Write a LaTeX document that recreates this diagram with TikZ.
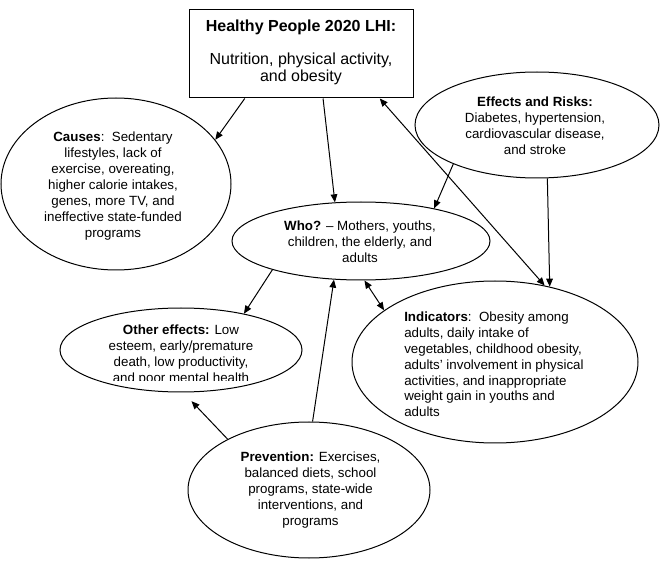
\documentclass[tikz,border=0pt]{standalone}
\usepackage{fontspec}
\setmainfont{Liberation Sans}
\usetikzlibrary{shapes.geometric,arrows.meta,calc}
\begin{document}
\begin{tikzpicture}[x=0.75pt,y=-0.75pt,
  oval/.style={draw,ellipse,line width=0.75pt,inner sep=0pt},
  frame/.style={draw,rectangle,line width=0.75pt,inner sep=0pt},
  body/.style={font=\fontsize{10}{11.9}\selectfont,align=center,inner sep=0pt},
  head/.style={font=\fontsize{12}{12.5}\selectfont,align=center,inner sep=0pt},
  conn/.style={line width=0.75pt,-{Triangle[length=6pt,width=5pt]}},
  dconn/.style={line width=0.75pt,{Triangle[length=6pt,width=5pt]}-{Triangle[length=6pt,width=5pt]}}]
\useasboundingbox (0,0) rectangle (662,567);

% shapes
\node[frame,minimum width=168pt,minimum height=66pt] (box) at (301,54) {};
\node[oval,minimum width=172.5pt,minimum height=129pt] (causes) at (116,184) {};
\node[oval,minimum width=183pt,minimum height=79.5pt] (eff) at (537,125) {};
\node[oval,minimum width=193.5pt,minimum height=58.5pt] (who) at (361,241) {};
\node[oval,minimum width=214.5pt,minimum height=121.5pt] (ind) at (495,362) {};
\node[oval,minimum width=181.5pt,minimum height=63pt] (oth) at (181,350) {};
\node[oval,minimum width=181.5pt,minimum height=102pt] (prev) at (309,490) {};

% texts
\node[head] (boxtitle) at (301,27) {\textbf{Healthy People 2020 LHI:}};
\node[head] (boxbody) at (301,69) {Nutrition, physical activity,\\and obesity};
\node[body] (causestxt) at (113,186) {\textbf{Causes}:\ \ Sedentary\\lifestyles, lack of\\exercise, overeating,\\higher calorie intakes,\\genes, more TV, and\\ineffective state-funded\\programs};
\node[body] (efftxt) at (535,126) {\textbf{Effects and Risks:}\\Diabetes, hypertension,\\cardiovascular disease,\\and stroke};
\node[body] (whotxt) at (360,242) {\textbf{Who?} – Mothers, youths,\\children, the elderly, and\\adults};
\node[body,align=left,anchor=west] (indtxt) at (404,364.5) {\textbf{Indicators}:\ \ Obesity among\\adults, daily intake of\\vegetables, childhood obesity,\\adults’ involvement in physical\\activities, and inappropriate\\weight gain in youths and\\adults};
\begin{scope}
  \clip (0,0) rectangle (662,380.5);
  \node[body] (othtxt) at (181,355) {\textbf{Other effects:} Low\\esteem, early/premature\\death, low productivity,\\and poor mental health};
\end{scope}
\node[body] (prevtxt) at (310.5,490) {\textbf{Prevention:} Exercises,\\balanced diets, school\\programs, state-wide\\interventions, and\\programs};

% connectors
\draw[conn] ($(box.south west)!0.25!(box.south east)$) -- (causes.24);
\draw[conn] ($(box.south west)!0.598!(box.south east)$) -- (who.124);
\draw[dconn] ($(box.south west)!0.85!(box.south east)$) -- (ind.57);
\draw[conn] (eff.205.6) -- (who.24.7);
\draw[conn] (eff.281.8) -- (ind.54.8);
\draw[conn] (who.198.7) -- (oth.30);
\draw[conn] (prev.87.5) -- (who.235.8);
\draw[dconn] (who.275.9) -- (ind.155.8);
\draw[conn,shorten >=9pt] (prev.148.6) -- (oth.273);
\end{tikzpicture}
\end{document}
